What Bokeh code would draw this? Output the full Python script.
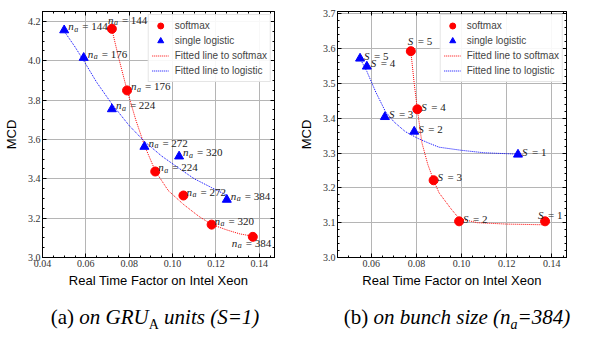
from bokeh.plotting import figure
from bokeh.models import (ColumnDataSource, Range1d, LinearAxis, SingleIntervalTicker,
                          Legend, LegendItem, Div, NumeralTickFormatter, CustomLabelingPolicy)
from bokeh.layouts import row, column
from bokeh.embed import file_html
from bokeh.resources import INLINE
from bokeh.core.properties import value

# ---------------- Panel (a): on GRU_A units (S=1) ----------------
a_soft_rtf = [0.072, 0.079, 0.092, 0.105, 0.118, 0.137]
a_soft_mcd = [4.162, 3.849, 3.437, 3.315, 3.167, 3.105]
a_soft_na = ["144", "176", "224", "272", "320", "384"]

a_logi_rtf = [0.050, 0.059, 0.072, 0.087, 0.103, 0.125]
a_logi_mcd = [4.155, 4.015, 3.754, 3.563, 3.514, 3.294]
a_logi_na = ["144", "176", "224", "272", "320", "384"]

a_fit_soft_rtf = [0.072, 0.075, 0.079, 0.083, 0.087, 0.092, 0.098, 0.105, 0.112, 0.118, 0.125, 0.131, 0.137]
a_fit_soft_mcd = [4.160, 4.020, 3.850, 3.700, 3.570, 3.440, 3.340, 3.270, 3.210, 3.168, 3.140, 3.120, 3.108]
a_fit_logi_rtf = [0.050, 0.055, 0.059, 0.065, 0.072, 0.080, 0.087, 0.095, 0.103, 0.110, 0.118, 0.125]
a_fit_logi_mcd = [4.150, 4.070, 4.000, 3.890, 3.780, 3.670, 3.590, 3.515, 3.453, 3.400, 3.355, 3.316]

# ---------------- Panel (b): on bunch size (n_a=384) ----------------
b_soft_rtf = [0.0775, 0.0804, 0.0876, 0.0989, 0.137]
b_soft_mcd = [3.593, 3.426, 3.222, 3.104, 3.104]
b_soft_s = ["5", "4", "3", "2", "1"]

b_logi_rtf = [0.055, 0.058, 0.066, 0.079, 0.125]
b_logi_mcd = [3.572, 3.549, 3.404, 3.362, 3.296]
b_logi_s = ["5", "4", "3", "2", "1"]

b_fit_soft_rtf = [0.0775, 0.0790, 0.0804, 0.0824, 0.0850, 0.0876, 0.0900, 0.0953, 0.0989, 0.1070, 0.1200, 0.1370]
b_fit_soft_mcd = [3.593, 3.500, 3.426, 3.330, 3.268, 3.222, 3.186, 3.140, 3.112, 3.100, 3.096, 3.094]
b_fit_logi_rtf = [0.055, 0.058, 0.062, 0.0662, 0.070, 0.075, 0.0804, 0.085, 0.090, 0.100, 0.110, 0.125]
b_fit_logi_mcd = [3.572, 3.535, 3.475, 3.420, 3.390, 3.362, 3.343, 3.330, 3.317, 3.308, 3.301, 3.297]

RED = "#ff0000"
BLUE = "#0000ff"
SERIF = "Liberation Serif"
SANS = "Liberation Sans"

NO_LABELS = CustomLabelingPolicy(code="""
for (const i of Array.from(indices)) { indices.unset(i) }
return indices
""")


def style(p, xint, yint, yminor):
    p.xaxis.ticker = SingleIntervalTicker(interval=xint, num_minor_ticks=4)
    p.yaxis.ticker = SingleIntervalTicker(interval=yint, num_minor_ticks=yminor)
    p.xaxis.formatter = NumeralTickFormatter(format="0.00")
    p.yaxis.formatter = NumeralTickFormatter(format="0.0")
    for ax in p.axis:
        ax.major_tick_in = 4
        ax.major_tick_out = 0
        ax.minor_tick_in = 2
        ax.minor_tick_out = 0
        ax.axis_line_color = "black"
        ax.major_label_text_font = SERIF
        ax.major_label_text_font_size = "10px"
        ax.major_label_text_color = "#333333"
        ax.major_label_standoff = 2
        ax.axis_label_text_font = SANS
        ax.axis_label_text_font_size = "13px"
        ax.axis_label_text_font_style = "normal"
        ax.axis_label_text_color = "black"
    p.xaxis.axis_label_standoff = 3
    p.yaxis.axis_label_standoff = 6
    p.xaxis.axis_label = "Real Time Factor on Intel Xeon"
    p.yaxis.axis_label = "MCD"
    for side, interval, nm in (("right", yint, yminor), ("above", xint, 4)):
        ax = LinearAxis(ticker=SingleIntervalTicker(interval=interval, num_minor_ticks=nm),
                        major_tick_in=4, major_tick_out=0, minor_tick_in=2, minor_tick_out=0,
                        major_label_policy=NO_LABELS, major_label_standoff=0,
                        axis_line_color="black")
        p.add_layout(ax, side)
    p.grid.grid_line_color = "#b5b5b5"
    p.grid.grid_line_width = 1
    p.outline_line_color = "black"


def add_labels(p, xs, ys, sym, nums, dxs, dys, sub):
    src = ColumnDataSource(dict(x=xs, y=ys, s=[sym] * len(xs), sub=[sub] * len(xs),
                                t=["= " + n for n in nums],
                                dx=dxs, dy=dys,
                                dx2=[d + 6 for d in dxs], dy2=[d + 3 for d in dys],
                                dx3=[d + (14 if sub else 10) for d in dxs]))
    p.text(x="x", y="y", text="s", x_offset="dx", y_offset="dy", source=src,
           text_font=value(SERIF), text_font_style="italic", text_font_size="11px",
           text_baseline="middle", text_align="left", text_color="#222222")
    if sub:
        p.text(x="x", y="y", text="sub", x_offset="dx2", y_offset="dy2", source=src,
               text_font=value(SERIF), text_font_style="italic", text_font_size="8px",
               text_baseline="middle", text_align="left", text_color="#222222")
    p.text(x="x", y="y", text="t", x_offset="dx3", y_offset="dy", source=src,
           text_font=value(SERIF), text_font_size="11px",
           text_baseline="middle", text_align="left", text_color="#222222")


def make_panel(xr, yr, soft_x, soft_y, logi_x, logi_y, fs_x, fs_y, fl_x, fl_y,
               xint, yint, yminor, width, frame_left, frame_top):
    p = figure(width=width, height=290, x_range=Range1d(*xr), y_range=Range1d(*yr),
               output_backend="svg", toolbar_location=None,
               min_border_left=frame_left, min_border_right=4,
               min_border_top=frame_top, min_border_bottom=30)
    style(p, xint, yint, yminor)
    r_fs = p.line(fs_x, fs_y, line_color=RED, line_dash="1 1", line_width=1)
    r_fl = p.line(fl_x, fl_y, line_color=BLUE, line_dash="1 1", line_width=1)
    r_s = p.scatter(soft_x, soft_y, marker="circle", size=9, fill_color=RED, line_color=RED)
    r_l = p.scatter(logi_x, logi_y, marker="triangle", size=9, fill_color=BLUE, line_color=BLUE)
    legend = Legend(items=[LegendItem(label="softmax", renderers=[r_s]),
                           LegendItem(label="single logistic", renderers=[r_l]),
                           LegendItem(label="Fitted line to softmax", renderers=[r_fs]),
                           LegendItem(label="Fitted line to logistic", renderers=[r_fl])],
                    location="top_right", margin=3, padding=3, spacing=0,
                    glyph_width=17, glyph_height=15, label_height=15, label_standoff=6,
                    label_text_font=SANS, label_text_font_size="10px",
                    border_line_color="#cccccc", border_line_width=1,
                    background_fill_color="white", background_fill_alpha=0.9)
    p.add_layout(legend)
    return p


pa = make_panel((0.04, 0.147), (3.0, 4.25), a_soft_rtf, a_soft_mcd, a_logi_rtf, a_logi_mcd,
                a_fit_soft_rtf, a_fit_soft_mcd, a_fit_logi_rtf, a_fit_logi_mcd,
                0.02, 0.2, 4, 292, 37, 0)
add_labels(pa, a_soft_rtf, a_soft_mcd, "n", a_soft_na,
           [-4, 4, 3, 3, 3, -21], [-9, -4, -4, -4, -4, 6], "a")
add_labels(pa, a_logi_rtf, a_logi_mcd, "n", a_logi_na,
           [4, 4, 4, 4, 4, 4], [-4, -4, -4, -4, -4, -4], "a")

pb = make_panel((0.045, 0.1465), (3.0, 3.707), b_soft_rtf, b_soft_mcd, b_logi_rtf, b_logi_mcd,
                b_fit_soft_rtf, b_fit_soft_mcd, b_fit_logi_rtf, b_fit_logi_mcd,
                0.02, 0.1, 5, 292, 45, 3)
add_labels(pb, b_soft_rtf, b_soft_mcd, "S", b_soft_s,
           [-3, 4, 4, 4, -7], [-10, -2, -3, -2, -6], "")
add_labels(pb, b_logi_rtf, b_logi_mcd, "S", b_logi_s,
           [4, 4, 4, 4, 4], [-2, -3, -3, -3, -3], "")

cap_html = (
    '<div style="white-space:nowrap;font-family:\'Liberation Serif\';font-size:21px;'
    'line-height:22px;margin-top:11px;color:black">'
    '<span style="display:inline-block;width:300px;text-align:center">(a) <i>on GRU'
    '<sub style="font-style:normal;font-size:14px">A</sub> units (S=1)</i></span>'
    '<span style="display:inline-block;margin-left:20px;width:264px;text-align:center">(b) '
    '<i>on bunch size (n<sub style="font-size:14px">a</sub>=384)</i></span></div>'
)
cap = Div(text=cap_html, width=584, height=35)

layout = column(row(pa, pb), cap)
open("out.html", "w").write(file_html(layout, INLINE))
